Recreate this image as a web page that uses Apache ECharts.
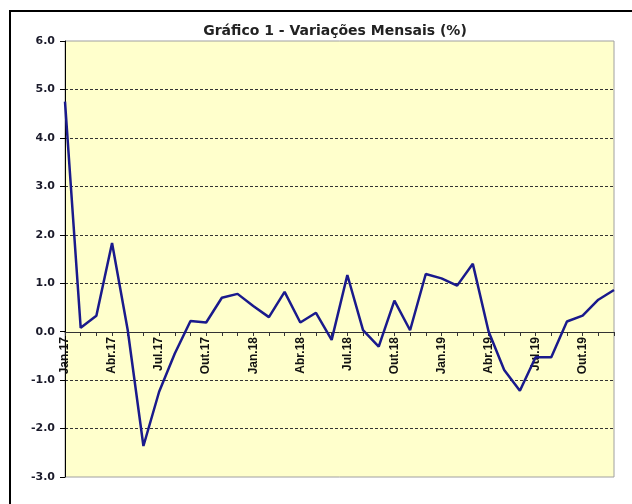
<!DOCTYPE html>
<html>
<head>
<meta charset="utf-8">
<script src="https://cdn.jsdelivr.net/npm/echarts@6/dist/echarts.min.js"></script>
<style>
  html, body { margin: 0; padding: 0; background: #fff; }
  #main { width: 632px; height: 504px; }
</style>
</head>
<body>
<div id="main"></div>
<script>
var months = ['Jan', 'Fev', 'Mar', 'Abr', 'Mai', 'Jun', 'Jul', 'Ago', 'Set', 'Out', 'Nov', 'Dez'];
var years = ['17', '18', '19'];
var categories = [];
years.forEach(function (y) {
  months.forEach(function (m) { categories.push(m + '.' + y); });
});

// variação mensal (%), Jan.17 .. Dez.19
var values2017 = [4.75, 0.08, 0.33, 1.83, 0.03, -2.36, -1.24, -0.45, 0.22, 0.19, 0.70, 0.78];
var values2018 = [0.53, 0.30, 0.82, 0.19, 0.39, -0.17, 1.17, 0.03, -0.31, 0.64, 0.03, 1.19];
var values2019 = [1.10, 0.95, 1.40, 0.01, -0.79, -1.22, -0.53, -0.53, 0.21, 0.33, 0.66, 0.86];
var values = values2017.concat(values2018, values2019);

var yMin = -3, yMax = 6, yStep = 1;

var myChart = echarts.init(document.getElementById('main'));

var gridTop = 41, gridBottom = 27;
var plotH = 504 - gridTop - gridBottom;
// the category axis sits on the zero line
var zeroOffset = -Math.round(plotH * (0 - yMin) / (yMax - yMin));

var gridColors = [];
for (var v = yMin; v <= yMax; v += yStep) {
  gridColors.push((v === yMin || v === yMax || v === 0) ? 'rgba(0,0,0,0)' : '#333');
}

var option = {
  animation: false,
  backgroundColor: '#fff',
  title: {
    text: 'Gráfico 1 - Variações Mensais (%)',
    left: 330,
    textAlign: 'center',
    top: 19,
    textStyle: { fontFamily: 'DejaVu Sans', fontWeight: 'bold', fontSize: 14, color: '#222' }
  },
  graphic: [{
    type: 'rect',
    shape: { x: 10, y: 11, width: 700, height: 600 },
    style: { fill: 'none', stroke: '#000', lineWidth: 2 },
    z: 100
  }],
  grid: {
    left: 65, right: 18, top: gridTop, bottom: gridBottom,
    show: true,
    backgroundColor: '#FFFFCC',
    borderColor: '#a0a0a0',
    borderWidth: 1
  },
  xAxis: {
    type: 'category',
    data: categories,
    boundaryGap: false,
    position: 'bottom',
    offset: zeroOffset,
    axisLine: { onZero: false, lineStyle: { color: '#333', width: 1 } },
    axisTick: { show: true, interval: 0, length: 4, inside: false, lineStyle: { color: '#333' } },
    axisLabel: {
      interval: 2,
      rotate: 90,
      margin: 5,
      fontFamily: 'Liberation Sans',
      fontWeight: 'bold',
      fontSize: 12,
      color: '#111'
    },
    splitLine: { show: false }
  },
  yAxis: {
    type: 'value',
    min: yMin, max: yMax, interval: yStep,
    axisLine: { show: true, lineStyle: { color: '#000', width: 1 } },
    axisTick: { show: true, length: 5, lineStyle: { color: '#000' } },
    axisLabel: {
      margin: 10,
      fontFamily: 'DejaVu Sans',
      fontWeight: 'bold',
      fontSize: 11,
      color: '#1a1a2a',
      formatter: function (v) { return v.toFixed(1); }
    },
    splitLine: { show: true, lineStyle: { color: gridColors, type: [3, 2], width: 1 } }
  },
  series: [{
    type: 'line',
    data: values,
    showSymbol: false,
    symbol: 'none',
    lineStyle: { color: '#1a1a8c', width: 2.5 },
    z: 5
  }]
};
myChart.setOption(option);
</script>
</body>
</html>
